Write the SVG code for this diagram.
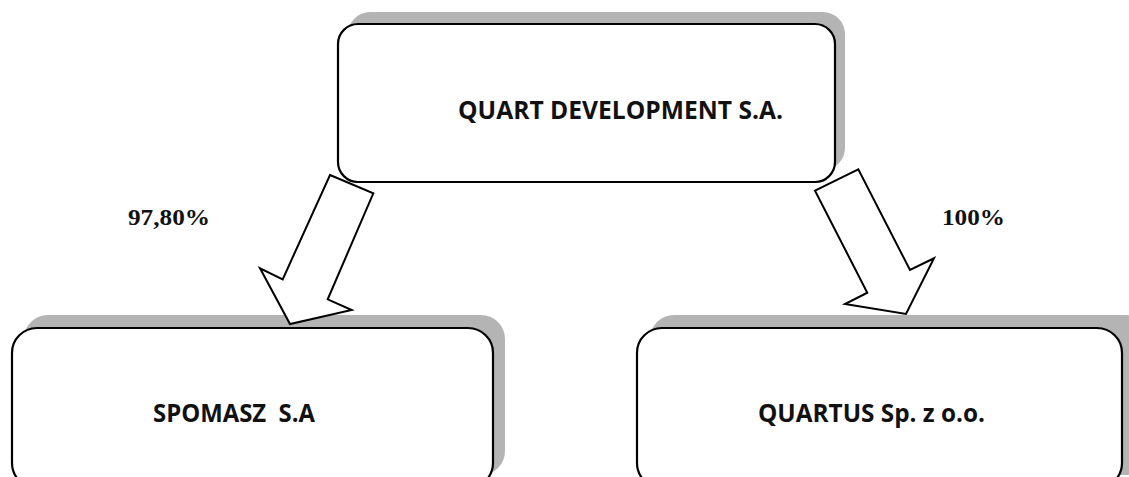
<svg xmlns="http://www.w3.org/2000/svg" width="1129" height="477" viewBox="0 0 1129 477">
  <style>
    .shadow { fill: #b4b4b4; }
    .box { fill: #ffffff; stroke: #000000; stroke-width: 2.2; }
    .label { font-family: "Open Sans", "Liberation Sans", sans-serif; font-weight: bold; fill: #111111; white-space: pre; }
    .pct { font-family: "Liberation Serif", "DejaVu Serif", serif; font-weight: bold; fill: #111111; }
    .arrow { fill: #ffffff; stroke: #000000; stroke-width: 2; stroke-linejoin: miter; }
  </style>
  <rect width="1129" height="477" fill="#ffffff"/>

  <g id="node-quart-development">
    <rect class="shadow" x="348" y="12" width="497" height="158" rx="22" ry="22"/>
    <rect class="box" x="338" y="24" width="497" height="158" rx="20" ry="20"/>
    <text class="label" x="458" y="119" font-size="25.5" textLength="325" lengthAdjust="spacingAndGlyphs">QUART DEVELOPMENT S.A.</text>
  </g>

  <g id="node-spomasz">
    <rect class="shadow" x="24" y="315" width="481" height="160" rx="24" ry="24"/>
    <rect class="box" x="12" y="328" width="481" height="160" rx="25" ry="25"/>
    <text class="label" x="153" y="422" font-size="24.5" textLength="162" lengthAdjust="spacingAndGlyphs">SPOMASZ  S.A</text>
  </g>

  <g id="node-quartus">
    <rect class="shadow" x="650" y="315" width="500" height="160" rx="24" ry="24"/>
    <rect class="box" x="637" y="328" width="485" height="160" rx="25" ry="25"/>
    <text class="label" x="758" y="422" font-size="24.5" textLength="227" lengthAdjust="spacingAndGlyphs">QUARTUS Sp. z o.o.</text>
  </g>

  <g id="connectors">
    <polygon class="arrow" points="330,175 373.3,193.3 327.7,299.3 351.7,310 290,324 260,268.3 282.7,279.3"/>
    <polygon class="arrow" points="815,190.7 858.3,169.3 910,270 934,258.3 906,314 845,304 867.3,292.7"/>
    <text class="pct" x="128" y="225" font-size="24" textLength="82" lengthAdjust="spacingAndGlyphs">97,80%</text>
    <text class="pct" x="942" y="225" font-size="24" textLength="63" lengthAdjust="spacingAndGlyphs">100%</text>
  </g>
</svg>
